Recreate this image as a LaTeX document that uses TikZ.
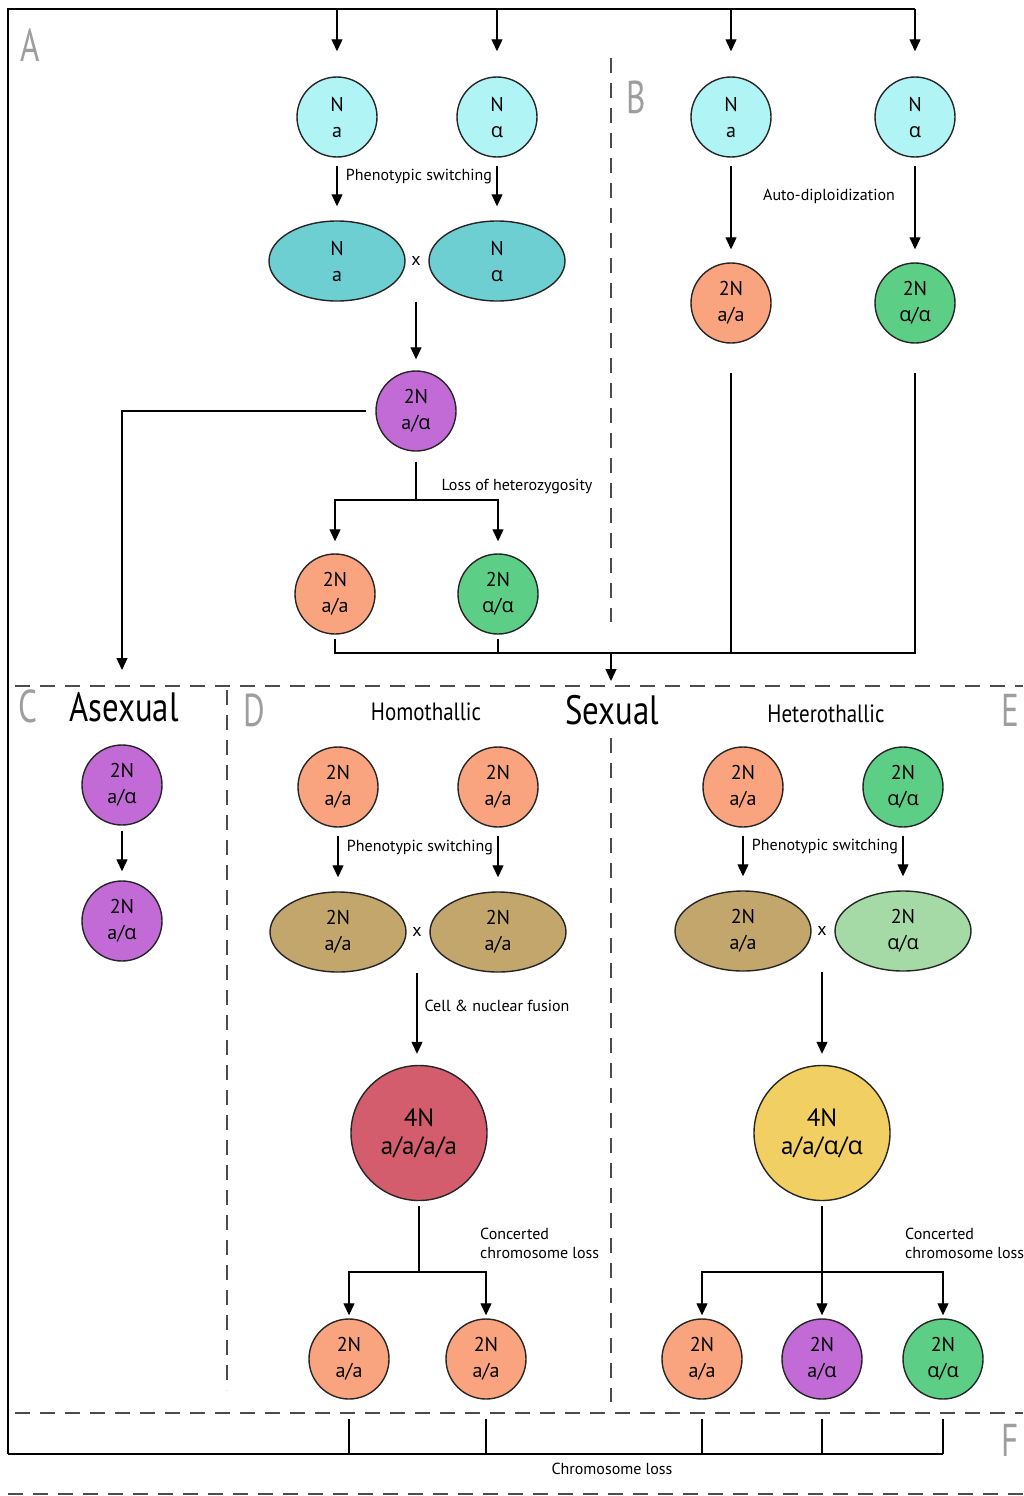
\documentclass[tikz,border=0pt]{standalone}
\usepackage{fontspec}
\usepackage{graphicx}
\setmainfont{PT Sans}
\newfontfamily\gkfont{Open Sans}
\usetikzlibrary{arrows.meta,shapes.geometric,calc}
\newcommand\alf{{\gkfont α}}

\definecolor{cyanc}{HTML}{B0F4F5}
\definecolor{tealc}{HTML}{6ECFD2}
\definecolor{purplec}{HTML}{C26BD6}
\definecolor{orangec}{HTML}{F9A47F}
\definecolor{greenc}{HTML}{5DCE86}
\definecolor{tanc}{HTML}{C3A66B}
\definecolor{ltgreenc}{HTML}{A5DAA7}
\definecolor{redc}{HTML}{D35D6C}
\definecolor{yellowc}{HTML}{F1CF62}

\begin{document}
\begin{tikzpicture}[x=1pt,y=-1pt,
  cell/.style={circle, draw=black!85, line width=1.4pt, minimum size=80pt,
    inner sep=0pt, align=center, font=\fontsize{20}{26}\selectfont},
  oval/.style={ellipse, draw=black!85, line width=1.4pt, minimum width=136pt,
    minimum height=80pt, inner sep=0pt, align=center, font=\fontsize{20}{26}\selectfont},
  bigcell/.style={ellipse, draw=black!85, line width=1.4pt, minimum width=136pt,
    minimum height=135pt, inner sep=0pt, align=center, font=\fontsize{25}{28}\selectfont},
  ln/.style={line width=1.2pt, draw=black},
  arr/.style={line width=1.2pt, draw=black, -{Triangle[length=12pt,width=11pt]}},
  note/.style={font=\fontsize{16}{19}\selectfont, inner sep=0pt},
  cross/.style={font=\fontsize{18}{18}\selectfont, inner sep=0pt},
  tag/.style={text=black!38, font=\fontsize{46}{46}\selectfont, inner sep=0pt},
  title/.style={font=\fontsize{25}{25}\selectfont, inner sep=0pt},
  bigtitle/.style={font=\fontsize{41}{41}\selectfont, inner sep=0pt},
  sep/.style={dash pattern=on 15pt off 10pt, line width=1.2pt, draw=black!70}]

\useasboundingbox (0,0) rectangle (1023,1496);
\fill[white] (0,0) rectangle (1023,1496);

% ---------- region separators ----------
\draw[sep] (15,686) -- (1023,686);
\draw[sep] (611,58) -- (611,622);
\draw[sep] (227,690) -- (227,1390);
\draw[sep] (611,738) -- (611,1402);
\draw[sep] (15,1413) -- (1023,1413);
\draw[sep] (8,1494) -- (1023,1494);

% ---------- panel letters ----------
\node[tag] (tA) at (30,45) {\scalebox{0.72}[1]{A}};
\node[tag] (tB) at (636,97) {\scalebox{0.72}[1]{B}};
\node[tag] (tC) at (28,706) {\scalebox{0.72}[1]{C}};
\node[tag] (tD) at (254,710) {\scalebox{0.72}[1]{D}};
\node[tag] (tE) at (1010,710) {\scalebox{0.72}[1]{E}};
\node[tag] (tF) at (1010,1440) {\scalebox{0.72}[1]{F}};

% ---------- titles ----------
\node[bigtitle] (ttlC) at (124,707) {\scalebox{0.8}[1]{Asexual}};
\node[bigtitle] (ttlS) at (612,710) {\scalebox{0.8}[1]{Sexual}};
\node[title] (ttlD) at (426,712) {\scalebox{0.84}[1]{Homothallic}};
\node[title] (ttlE) at (826,714) {\scalebox{0.84}[1]{Heterothallic}};

% ---------- A: mating of haploids ----------
\node[cell, fill=cyanc] (na) at (337,117) {N\\a};
\node[cell, fill=cyanc] (nal) at (497,117) {N\\\alf};
\node[oval, fill=tealc] (ea) at (337,261) {N\\a};
\node[oval, fill=tealc] (eal) at (497,261) {N\\\alf};
\node[cross] (xA) at (416,261) {x};
\node[cell, fill=purplec] (pm) at (416,411) {2N\\a/\alf};
\node[cell, fill=orangec] (lohA) at (335,594) {2N\\a/a};
\node[cell, fill=greenc] (lohB) at (498,594) {2N\\\alf/\alf};

\draw[arr] ([yshift=-8pt]na.south) -- ([yshift=14pt]ea.north);
\draw[arr] ([yshift=-8pt]nal.south) -- ([yshift=14pt]eal.north);
\node[note] (psA) at (419,177) {Phenotypic switching};
\draw[arr] (xA |- ea.south) -- ([yshift=11pt]pm.north);

\coordinate (jL) at (416,500);
\draw[ln] ([yshift=-10pt]pm.south) -- (jL);
\draw[arr] (jL) -| ([yshift=12pt]lohA.north);
\draw[arr] (jL) -| ([yshift=12pt]lohB.north);
\node[note] (lohT) at (517,487) {Loss of heterozygosity};

% ---------- B: auto-diploidization ----------
\node[cell, fill=cyanc] (nb1) at (731,117) {N\\a};
\node[cell, fill=cyanc] (nb2) at (915,117) {N\\\alf};
\node[cell, fill=orangec] (db1) at (731,303) {2N\\a/a};
\node[cell, fill=greenc] (db2) at (915,303) {2N\\\alf/\alf};
\draw[arr] ([yshift=-8pt]nb1.south) -- ([yshift=13pt]db1.north);
\draw[arr] ([yshift=-8pt]nb2.south) -- ([yshift=13pt]db2.north);
\node[note] (adT) at (829,196) {Auto-diploidization};

% ---------- top feed line and return loop ----------
\coordinate (tl) at (8,9);
\coordinate (bl) at (8,1454);
\draw[ln] (bl) -- (tl) -- (tl -| nb2);
\foreach \n in {na,nal,nb1,nb2}
  \draw[arr] (\n |- tl) -- ([yshift=25pt]\n.north);

% ---------- diploids into the lower panels ----------
\coordinate (jA) at (611,653);
\draw[ln] ([yshift=-4pt]lohA.south) -- (lohA |- jA) -- (db2 |- jA) -- ([yshift=-29pt]db2.south);
\draw[ln] ([yshift=-4pt]lohB.south) -- (lohB |- jA);
\draw[ln] ([yshift=-29pt]db1.south) -- (db1 |- jA);
\draw[arr] (jA) -- ++(0,28);

\coordinate (cT) at (122,670);
\draw[arr] ([xshift=-9pt]pm.west) -| (cT);

% ---------- C: asexual ----------
\node[cell, fill=purplec] (c1) at (122,785) {2N\\a/\alf};
\node[cell, fill=purplec] (c2) at (122,921) {2N\\a/\alf};
\draw[arr] ([yshift=-5pt]c1.south) -- ([yshift=9pt]c2.north);

% ---------- D: homothallic ----------
\node[cell, fill=orangec] (d1) at (338,787) {2N\\a/a};
\node[cell, fill=orangec] (d2) at (498,787) {2N\\a/a};
\node[oval, fill=tanc] (de1) at (338,932) {2N\\a/a};
\node[oval, fill=tanc] (de2) at (498,932) {2N\\a/a};
\node[cross] (xD) at (417,932) {x};
\draw[arr] ([yshift=-8pt]d1.south) -- ([yshift=14pt]de1.north);
\draw[arr] ([yshift=-8pt]d2.south) -- ([yshift=14pt]de2.north);
\node[note] (psD) at (420,848) {Phenotypic switching};

\node[bigcell, fill=redc] (dr) at (419,1133) {4N\\a/a/a/a};
\draw[arr] (xD |- de1.south) -- ($(xD |- dr.north)+(0,-11)$);
\node[note] (fuT) at (497,1006) {Cell \& nuclear fusion};

\node[cell, fill=orangec] (d3) at (349,1359) {2N\\a/a};
\node[cell, fill=orangec] (d4) at (486,1359) {2N\\a/a};
\coordinate (jD) at (419,1272);
\draw[ln] ([yshift=-5pt]dr.south) -- (jD);
\draw[arr] (jD) -| ([yshift=3pt]d3.north);
\draw[arr] (jD) -| ([yshift=3pt]d4.north);
\node[note, anchor=west, align=left] (ccD) at (480,1243) {Concerted\\chromosome loss};

% ---------- E: heterothallic ----------
\node[cell, fill=orangec] (e1) at (743,787) {2N\\a/a};
\node[cell, fill=greenc] (e2) at (903,787) {2N\\\alf/\alf};
\node[oval, fill=tanc] (ee1) at (743,931) {2N\\a/a};
\node[oval, fill=ltgreenc] (ee2) at (903,931) {2N\\\alf/\alf};
\node[cross] (xE) at (822,931) {x};
\draw[arr] ([yshift=-8pt]e1.south) -- ([yshift=14pt]ee1.north);
\draw[arr] ([yshift=-8pt]e2.south) -- ([yshift=14pt]ee2.north);
\node[note] (psE) at (825,847) {Phenotypic switching};

\node[bigcell, fill=yellowc] (ey) at (822,1133) {4N\\a/a/\alf/\alf};
\draw[arr] (xE |- ee1.south) -- ([yshift=11pt]ey.north);

\node[cell, fill=orangec] (e3) at (702,1359) {2N\\a/a};
\node[cell, fill=purplec] (e4) at (822,1359) {2N\\a/\alf};
\node[cell, fill=greenc] (e5) at (943,1359) {2N\\\alf/\alf};
\coordinate (jE) at (822,1272);
\draw[arr] ([yshift=-5pt]ey.south) -- ([yshift=3pt]e4.north);
\draw[arr] (jE) -| ([yshift=3pt]e3.north);
\draw[arr] (jE) -| ([yshift=3pt]e5.north);
\node[note, anchor=west, align=left] (ccE) at (905,1243) {Concerted\\chromosome loss};

% ---------- F: chromosome loss back to haploids ----------
\draw[ln] (bl) -- (bl -| e5);
\foreach \n in {d3,d4,e3,e4,e5}
  \draw[ln] ([yshift=-19pt]\n.south) -- (\n |- bl);
\node[note] (clT) at (612,1469) {Chromosome loss};

\end{tikzpicture}
\end{document}
